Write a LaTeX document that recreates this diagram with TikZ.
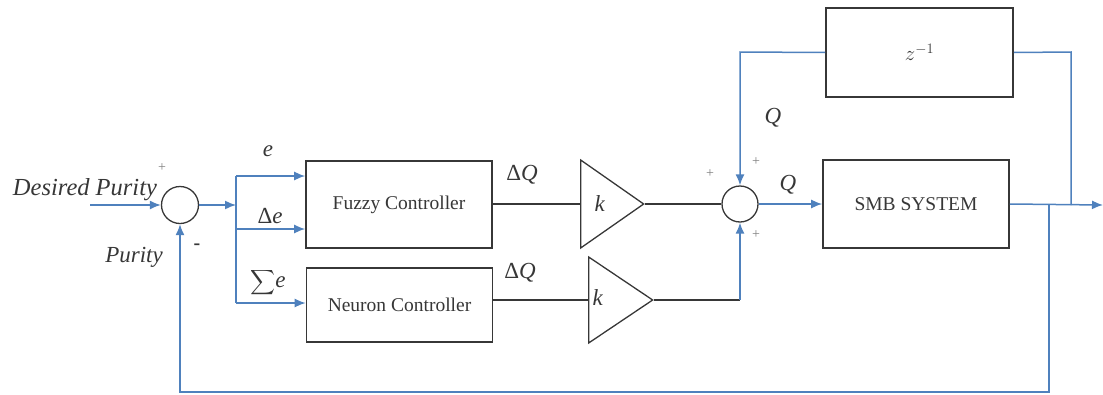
\documentclass[tikz,border=0pt]{standalone}
\usepackage{amsmath}
\usepackage{fontspec}
\setmainfont{Liberation Serif}
\usetikzlibrary{shapes.geometric,arrows.meta}
\definecolor{linkblue}{RGB}{79,129,189}
\definecolor{boxgray}{RGB}{55,55,55}
\begin{document}
\begin{tikzpicture}[x=1pt,y=-1pt,
	blk/.style={draw=boxgray,line width=1.6,minimum width=186,minimum height=87,inner sep=0,text=boxgray,font=\fontsize{19.5}{20}\selectfont},
	summer/.style={draw=boxgray,circle,line width=1.3,minimum size=37,inner sep=0},
	gain/.style={draw=boxgray,isosceles triangle,isosceles triangle stretches,line width=1.3,minimum width=88,minimum height=63,inner sep=0,anchor=west},
	sig/.style={linkblue,line width=1.5},
	sigarrow/.style={sig,-{Latex[length=11,width=9]}},
	wire/.style={boxgray,line width=1.4},
	lbl/.style={text=boxgray,font=\fontsize{23}{25}\selectfont},
	sgn/.style={gray,font=\fontsize{14}{14}\selectfont}]
				\useasboundingbox (0,0) rectangle (1103,394);
				
				% blocks
				\node[summer] (sumA) at (180,205) {};
				\node[blk] (fuzzy) at (399,204.5) {Fuzzy Controller};
				\node[blk,minimum height=74] (neuron) at (399.5,305) {Neuron Controller};
				\node[gain] (gainA) at (580,204) {};
				\node[gain,minimum width=86,minimum height=64] (gainB) at (588,300) {};
				\node[summer,minimum size=36] (sumB) at (740,204) {};
				\node[blk,minimum height=88] (smb) at (916,204) {SMB SYSTEM};
				\node[blk,minimum width=187,minimum height=89] (delay) at (919.5,52.5) {\fontsize{21}{21}\selectfont$z^{-1}$};
				
				% branch points
				\coordinate (in) at (90,205);
				\coordinate (split) at (236,205);
				\coordinate (splitT) at (236,176);
				\coordinate (splitM) at (236,229);
				\coordinate (splitB) at (236,303);
				\coordinate (joinB) at (740,300);
				\coordinate (fbTop) at (1049,205);
				\coordinate (fbBot) at (1049,392);
				\coordinate (fbEnd) at (180,392);
				\coordinate (loopR) at (1071,205);
				\coordinate (loopRT) at (1071,52);
				\coordinate (loopL) at (740,52);
				\coordinate (out) at (1103,205);
				
				% signals
				\draw[sigarrow] (in) -- (sumA.west);
				\draw[sigarrow] (sumA.east) -- (split);
				\draw[sig] (splitT) -- (splitB);
				\draw[sigarrow] (splitT) -- (splitT -| fuzzy.west);
				\draw[sigarrow] (splitM) -- (splitM -| fuzzy.west);
				\draw[sigarrow] (splitB) -- (splitB -| neuron.west);
				\draw[wire] (fuzzy.east |- gainA.west) -- (gainA.west);
				\draw[wire] (gainA.east) -- (sumB.west);
				\draw[wire] (neuron.east |- gainB.west) -- (gainB.west);
				\draw[wire] (gainB.east) -- (joinB);
				\draw[sigarrow] (joinB) -- (sumB.south);
				\draw[sigarrow] (sumB.east) -- (smb.west);
				\draw[sigarrow] (smb.east) -- (out);
				\draw[sigarrow] (fbTop) -- (fbBot) -- (fbEnd) -- (sumA.south);
				\draw[sig] (loopR) -- (loopRT) -- (delay.east);
				\draw[sigarrow] (delay.west) -- (loopL) -- (sumB.north);
				
				% labels
				\node[lbl,font=\fontsize{24.5}{26}\selectfont] (lDes) at (85,190) {\textit{Desired Purity}};
				\node[lbl] (lPur) at (134,257) {\textit{Purity}};
				\node[sgn] (pA) at (162,168) {+};
				\node[text=boxgray,font=\bfseries\fontsize{20}{20}\selectfont] (mA) at (197,247) {-};
				\node[lbl] (le) at (268,151) {\textit{e}};
				\node[lbl] (lde) at (270,216) {Δ\textit{e}};
				\node[lbl] (lse) at (268,283) {{\fontsize{17}{17}\selectfont$\displaystyle\sum$}\textit{e}};
				\node[lbl] (ldqA) at (522,175) {Δ\textit{Q}};
				\node[lbl] (ldqB) at (520,273) {Δ\textit{Q}};
				\node[lbl] (kA) at (600,204) {\textit{k}};
				\node[lbl] (kB) at (598,298) {\textit{k}};
				\node[sgn] (pB1) at (710,174) {+};
				\node[sgn] (pB2) at (756,162) {+};
				\node[sgn] (pB3) at (756,235) {+};
				\node[lbl] (lqA) at (773,118) {\textit{Q}};
				\node[lbl] (lqB) at (788,185) {\textit{Q}};
\end{tikzpicture}
\end{document}
